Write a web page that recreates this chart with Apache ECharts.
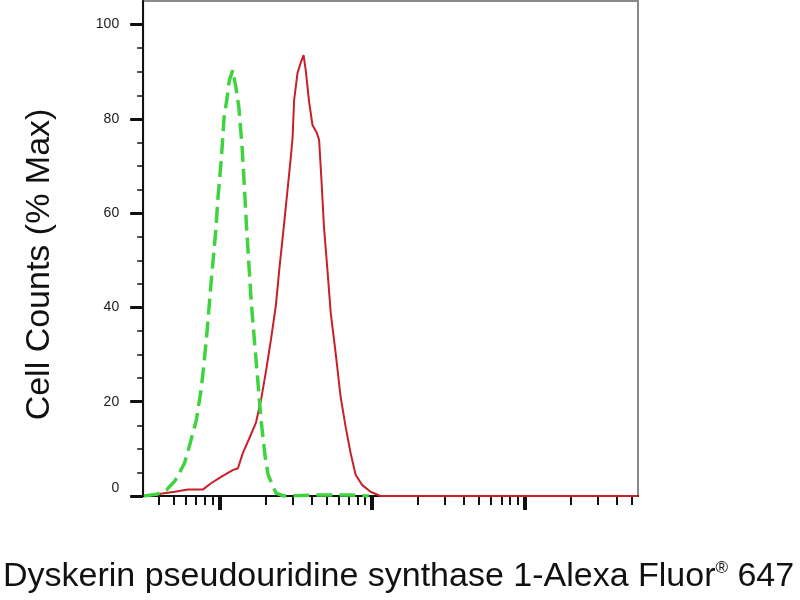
<!DOCTYPE html>
<html lang="en">
<head>
    <meta charset="UTF-8">
    <title>Dyskerin flow histogram</title>
    <script src="https://cdn.jsdelivr.net/npm/echarts@6/dist/echarts.min.js"></script>
    <style>
        html, body { margin: 0; padding: 0; background: #fff; }
        #main { width: 800px; height: 600px; }
    </style>
</head>
<body>
<div id="main"></div>
<script type="text/javascript">
    // 同型对照（绿色虚线）
    var greenX = [3.2, 3.9, 4.5, 5.1, 5.5, 5.9, 6.4, 7.05, 7.6, 7.95, 8.3, 8.8, 9.4, 9.8, 10.3, 10.7, 11.2, 11.6, 12.2,
        12.8, 13.4, 14.05, 14.55, 15.0, 15.55, 16.1, 16.9, 17.8, 18.7, 19.9, 20.8, 23.4, 26.4, 40, 70, 95];
    var greenY = [0, 0.4, 1.3, 3.2, 5.1, 7.0, 11.0, 16.1, 22.9, 28.8, 35.2, 45.2, 55.4, 63.8, 71.9, 80.2, 84.4, 88.2, 90.3,
        86.7, 82.3, 74.0, 65.5, 57.5, 49.4, 41.6, 33.1, 24.6, 16.1, 8.3, 4.5, 0.6, 0, 0.2, 0.2, 0];

    // 样本（红色实线）
    var redX = [3.2, 4.0, 5.1, 6.2, 7.8, 8.8, 10.3, 12.2, 13.2, 14.2, 15.7, 17.3, 18.7, 20.2, 21.7, 23.4, 24.6, 26.5,
        29.3, 30.1, 30.8, 32.4, 34.1, 35.5, 36.7, 38.6, 40.6, 43.4, 44.9, 46.5, 48.3, 50.9, 53.5, 57.6, 62.1, 67.0,
        72.2, 77.8, 86.0, 97.5, 113, 5500];
    var redY = [0, 0.4, 0.9, 1.4, 1.4, 2.7, 4.1, 5.5, 5.9, 9.1, 12.3, 15.5, 20.4, 26.7, 33.1, 40.5, 47.9, 57.9,
        71.9, 76.1, 84.0, 89.7, 92.0, 93.5, 90.3, 83.6, 78.7, 77.0, 75.5, 67.0, 57.1, 47.9, 38.8, 30.3, 21.0, 14.6,
        9.1, 4.5, 2.3, 0.9, 0, 0];

    // 刻度
    var xMajorTicks = [10, 100, 1000];
    var xMinorTicks = [4, 5, 6, 7, 8, 9, 20, 30, 40, 50, 60, 70, 80, 90,
        200, 300, 400, 500, 600, 700, 800, 900, 2000, 3000, 4000, 5000];
    var yMajorTicks = [0, 20, 40, 60, 80, 100];
    var yMinorTicks = [5, 10, 15, 25, 30, 35, 45, 50, 55, 65, 70, 75, 85, 90, 95];

    function pairs(xs, ys) {
        return xs.map(function (x, i) { return [x, ys[i]]; });
    }

    var xMin = 3.162, xMax = 5500, yMax = 105;
    var font = 'Liberation Sans, Arial, sans-serif';

    var myChart = echarts.init(document.getElementById('main'));
    myChart.setOption({
        backgroundColor: '#fff',
        animation: false,
        textStyle: { fontFamily: font },
        grid: {
            left: 142, right: 162, top: 1, bottom: 104,
            show: true, borderColor: '#8a8a8a', borderWidth: 2, backgroundColor: '#fff'
        },
        xAxis: [
            {
                type: 'log', logBase: 10, min: xMin, max: xMax,
                name: 'Dyskerin pseudouridine synthase 1-Alexa Fluor{sup|®} 647',
                nameLocation: 'middle', nameGap: 64,
                nameTextStyle: {
                    fontSize: 34, color: '#111', fontFamily: font, padding: [0, 0, 0, 16],
                    rich: { sup: { fontSize: 17, verticalAlign: 'top', color: '#111', fontFamily: font } }
                },
                axisLine: { show: true, lineStyle: { color: '#111', width: 2 } },
                axisTick: { show: true, inside: false, length: 14, lineStyle: { color: '#111', width: 4 },
                    customValues: xMajorTicks },
                axisLabel: { show: false },
                splitLine: { show: false },
                minorTick: { show: false }
            },
            {
                type: 'log', logBase: 10, min: xMin, max: xMax, gridIndex: 0, position: 'bottom',
                axisLine: { show: false },
                axisTick: { show: true, inside: false, length: 9, lineStyle: { color: '#111', width: 2 },
                    customValues: xMinorTicks },
                axisLabel: { show: false },
                splitLine: { show: false }
            }
        ],
        yAxis: [
            {
                type: 'value', min: 0, max: yMax,
                name: 'Cell Counts (% Max)',
                nameLocation: 'middle', nameGap: 87,
                nameTextStyle: { fontSize: 34, color: '#111', fontFamily: font, padding: [0, 32, 0, 0] },
                axisLine: { show: true, lineStyle: { color: '#111', width: 2 } },
                axisTick: { show: true, inside: false, length: 13, lineStyle: { color: '#111', width: 3 },
                    customValues: yMajorTicks },
                axisLabel: {
                    show: true, margin: 24, fontSize: 14, color: '#1a1a1a', fontFamily: font,
                    customValues: yMajorTicks,
                    formatter: function (v) { return v === 0 ? '{zero|0}' : String(v); },
                    rich: { zero: { padding: [0, 0, 16, 0], fontSize: 14, color: '#1a1a1a' } }
                },
                splitLine: { show: false }
            },
            {
                type: 'value', min: 0, max: yMax, gridIndex: 0, position: 'left',
                axisLine: { show: false },
                axisTick: { show: true, inside: false, length: 6, lineStyle: { color: '#111', width: 1.5 },
                    customValues: yMinorTicks },
                axisLabel: { show: false },
                splitLine: { show: false }
            }
        ],
        series: [
            {
                name: 'Dyskerin', type: 'line', xAxisIndex: 0, yAxisIndex: 0,
                data: pairs(redX, redY),
                showSymbol: false, symbol: 'none', smooth: false,
                lineStyle: { color: '#c8202a', width: 2 },
                z: 3
            },
            {
                name: 'Isotype', type: 'line', xAxisIndex: 0, yAxisIndex: 0,
                data: pairs(greenX, greenY),
                showSymbol: false, symbol: 'none', smooth: false,
                lineStyle: { color: '#3fd43f', width: 3.5, type: [16, 7] },
                z: 4
            }
        ]
    });
</script>
</body>
</html>
